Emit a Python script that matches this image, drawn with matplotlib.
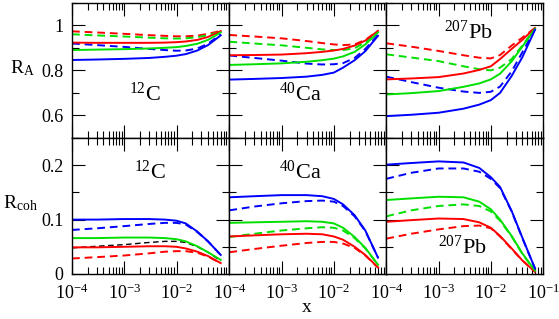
import numpy as np
import matplotlib
matplotlib.use("Agg")
import matplotlib.pyplot as plt
from matplotlib.ticker import LogLocator, MultipleLocator, FixedLocator, NullFormatter

plt.rcParams['font.family'] = ['Liberation Serif', 'DejaVu Serif']
plt.rcParams['mathtext.fontset'] = 'custom'
plt.rcParams['mathtext.rm'] = 'Liberation Serif'
plt.rcParams['mathtext.it'] = 'Liberation Serif:italic'

# x grid shared by all curves
x = [1e-4, 3e-4, 1e-3, 3e-3, 6e-3, 1e-2, 1.5e-2, 2.5e-2, 4e-2, 7e-2]

# R_A, top row
ra_c_red = [0.923, 0.922, 0.922, 0.922, 0.923, 0.925, 0.928, 0.935, 0.948, 0.974]
ra_c_red_d = [0.973, 0.968, 0.962, 0.956, 0.953, 0.951, 0.951, 0.954, 0.962, 0.975]
ra_c_green = [0.890, 0.892, 0.894, 0.897, 0.900, 0.903, 0.908, 0.918, 0.935, 0.968]
ra_c_green_d = [0.960, 0.955, 0.950, 0.945, 0.942, 0.941, 0.942, 0.947, 0.956, 0.972]
ra_c_blue = [0.846, 0.848, 0.851, 0.855, 0.860, 0.865, 0.872, 0.888, 0.912, 0.955]
ra_c_blue_d = [0.919, 0.912, 0.904, 0.895, 0.890, 0.887, 0.888, 0.897, 0.918, 0.960]

ra_ca_red = [0.867, 0.868, 0.870, 0.876, 0.882, 0.888, 0.895, 0.910, 0.932, 0.975]
ra_ca_red_d = [0.957, 0.950, 0.942, 0.930, 0.921, 0.915, 0.912, 0.915, 0.935, 0.975]
ra_ca_green = [0.824, 0.827, 0.831, 0.838, 0.845, 0.852, 0.862, 0.882, 0.915, 0.968]
ra_ca_green_d = [0.927, 0.919, 0.911, 0.900, 0.893, 0.890, 0.890, 0.898, 0.925, 0.970]
ra_ca_blue = [0.759, 0.762, 0.766, 0.772, 0.780, 0.790, 0.812, 0.845, 0.885, 0.953]
ra_ca_blue_d = [0.866, 0.855, 0.843, 0.830, 0.826, 0.827, 0.832, 0.855, 0.895, 0.958]

ra_pb_red = [0.760, 0.764, 0.770, 0.786, 0.802, 0.818, 0.850, 0.895, 0.935, 0.988]
ra_pb_red_d = [0.920, 0.905, 0.886, 0.867, 0.856, 0.853, 0.868, 0.910, 0.945, 0.988]
ra_pb_green = [0.693, 0.699, 0.708, 0.727, 0.742, 0.760, 0.785, 0.840, 0.905, 0.985]
ra_pb_green_d = [0.871, 0.857, 0.841, 0.818, 0.805, 0.800, 0.812, 0.850, 0.910, 0.985]
ra_pb_blue = [0.597, 0.603, 0.612, 0.630, 0.648, 0.668, 0.700, 0.775, 0.858, 0.980]
ra_pb_blue_d = [0.772, 0.748, 0.723, 0.706, 0.700, 0.705, 0.728, 0.795, 0.880, 0.982]

# R_coh, bottom row
rc_c_red = [0.049, 0.049, 0.050, 0.051, 0.051, 0.050, 0.047, 0.041, 0.033, 0.020]
rc_c_red_d = [0.0285, 0.031, 0.034, 0.038, 0.041, 0.042, 0.042, 0.039, 0.032, 0.020]
rc_c_green = [0.066, 0.066, 0.067, 0.067, 0.066, 0.064, 0.060, 0.051, 0.040, 0.026]
rc_c_black_d = [0.048, 0.051, 0.054, 0.058, 0.060, 0.060, 0.058, 0.050, 0.040, 0.024]
rc_c_blue = [0.100, 0.100, 0.101, 0.101, 0.100, 0.098, 0.093, 0.078, 0.060, 0.035]
rc_c_blue_d = [0.081, 0.084, 0.088, 0.092, 0.094, 0.094, 0.091, 0.077, 0.060, 0.035]

rc_ca_red = [0.069, 0.071, 0.073, 0.074, 0.073, 0.069, 0.063, 0.050, 0.035, 0.012]
rc_ca_red_d = [0.040, 0.046, 0.052, 0.057, 0.059, 0.059, 0.056, 0.048, 0.034, 0.012]
rc_ca_green = [0.094, 0.095, 0.096, 0.097, 0.096, 0.093, 0.085, 0.068, 0.048, 0.017]
rc_ca_green_d = [0.068, 0.074, 0.080, 0.084, 0.086, 0.085, 0.080, 0.066, 0.047, 0.017]
rc_ca_blue = [0.141, 0.143, 0.145, 0.145, 0.143, 0.138, 0.128, 0.108, 0.080, 0.030]
rc_ca_blue_d = [0.117, 0.124, 0.130, 0.134, 0.135, 0.133, 0.125, 0.106, 0.079, 0.030]

rc_pb_red = [0.096, 0.099, 0.102, 0.101, 0.095, 0.085, 0.070, 0.047, 0.025, 0.004]
rc_pb_red_d = [0.065, 0.074, 0.082, 0.088, 0.089, 0.084, 0.069, 0.046, 0.025, 0.004]
rc_pb_green = [0.136, 0.139, 0.142, 0.141, 0.133, 0.119, 0.100, 0.070, 0.038, 0.006]
rc_pb_green_d = [0.106, 0.117, 0.125, 0.128, 0.125, 0.115, 0.098, 0.069, 0.037, 0.006]
rc_pb_blue = [0.201, 0.204, 0.207, 0.205, 0.195, 0.178, 0.160, 0.116, 0.067, 0.010]
rc_pb_blue_d = [0.175, 0.186, 0.194, 0.194, 0.188, 0.175, 0.158, 0.115, 0.066, 0.010]

RED = '#ff0000'
GREEN = '#00e000'
BLUE = '#0000ff'
DASH = (0, (4, 2.5))
LW = 1.4

fig = plt.figure(figsize=(5.59, 3.19), dpi=100)
W, H = 559, 319

def make_ax(px_left, py_top, px_w, py_h):
    return fig.add_axes([px_left / W, 1 - (py_top + py_h) / H, px_w / W, py_h / H])

lefts = [72, 229.3, 386.3]
pw = 156.8
top_axes = [make_ax(l, 2.7, pw, 135.3) for l in lefts]
bot_axes = [make_ax(l, 138, pw, 136) for l in lefts]

def style(ax, bottom_row, col):
    ax.set_xscale('log')
    ax.set_xlim(1e-4, 1e-1)
    ax.xaxis.set_major_locator(FixedLocator([1e-4, 1e-3, 1e-2, 1e-1]))
    ax.xaxis.set_minor_locator(LogLocator(base=10, subs=np.arange(2, 10), numticks=20))
    ax.xaxis.set_minor_formatter(NullFormatter())
    ax.tick_params(which='both', direction='in', top=True, right=True, width=0.8)
    ax.tick_params(which='major', length=9.4, labelsize=13)
    ax.tick_params(axis='x', which='major', pad=7)
    ax.tick_params(axis='y', which='major', pad=6)
    ax.tick_params(which='minor', length=5)
    for s in ax.spines.values():
        s.set_linewidth(1.0)
    if bottom_row:
        ax.set_ylim(0, 0.25)
        ax.yaxis.set_major_locator(FixedLocator([0, 0.1, 0.2]))
        ax.yaxis.set_minor_locator(MultipleLocator(0.05))
        labs = [r'$10^{-4}$', r'$10^{-3}$', r'$10^{-2}$', r'$10^{-1}$' if col == 2 else '']
        ax.set_xticklabels(labs)
        ax.set_yticklabels(['0', '0.1', '0.2'] if col == 0 else [])
    else:
        ax.set_ylim(0.5, 1.1)
        ax.yaxis.set_major_locator(FixedLocator([0.6, 0.8, 1.0]))
        ax.yaxis.set_minor_locator(MultipleLocator(0.1))
        ax.set_xticklabels([])
        ax.set_yticklabels(['0.6', '0.8', '1'] if col == 0 else [])

def curves(ax, solid, dashed):
    for vals, c in dashed:
        lw = 1.0 if c == 'black' else LW
        ax.plot(x, vals, color=c, lw=lw, ls=DASH)
    for vals, c in solid:
        ax.plot(x, vals, color=c, lw=LW)

curves(top_axes[0], [(ra_c_red, RED), (ra_c_green, GREEN), (ra_c_blue, BLUE)],
       [(ra_c_red_d, RED), (ra_c_green_d, GREEN), (ra_c_blue_d, BLUE)])
curves(top_axes[1], [(ra_ca_red, RED), (ra_ca_green, GREEN), (ra_ca_blue, BLUE)],
       [(ra_ca_red_d, RED), (ra_ca_green_d, GREEN), (ra_ca_blue_d, BLUE)])
curves(top_axes[2], [(ra_pb_red, RED), (ra_pb_green, GREEN), (ra_pb_blue, BLUE)],
       [(ra_pb_red_d, RED), (ra_pb_green_d, GREEN), (ra_pb_blue_d, BLUE)])
curves(bot_axes[0], [(rc_c_red, RED), (rc_c_green, GREEN), (rc_c_blue, BLUE)],
       [(rc_c_red_d, RED), (rc_c_black_d, 'black'), (rc_c_blue_d, BLUE)])
curves(bot_axes[1], [(rc_ca_red, RED), (rc_ca_green, GREEN), (rc_ca_blue, BLUE)],
       [(rc_ca_red_d, RED), (rc_ca_green_d, GREEN), (rc_ca_blue_d, BLUE)])
curves(bot_axes[2], [(rc_pb_red, RED), (rc_pb_green, GREEN), (rc_pb_blue, BLUE)],
       [(rc_pb_red_d, RED), (rc_pb_green_d, GREEN), (rc_pb_blue_d, BLUE)])

for i, ax in enumerate(top_axes):
    style(ax, False, i)
for i, ax in enumerate(bot_axes):
    style(ax, True, i)

def label(px, py, s, size=16):
    fig.text(px / W, 1 - py / H, s, fontsize=size, ha='center', va='center')

label(145, 94, r'$^{12}\mathrm{C}$')
label(300, 94, r'$^{40}\mathrm{Ca}$')
label(468, 32, r'$^{207}\mathrm{Pb}$')
label(150, 172, r'$^{12}\mathrm{C}$')
label(300, 172, r'$^{40}\mathrm{Ca}$')
label(462, 247, r'$^{207}\mathrm{Pb}$')

label(22, 68, r'$\mathrm{R}_{\mathrm{A}}$', 14)
label(20, 203, r'$\mathrm{R}_{\mathrm{coh}}$', 14)
label(307, 308, r'$\mathrm{x}$', 14)

fig.savefig('out.png', dpi=100)
